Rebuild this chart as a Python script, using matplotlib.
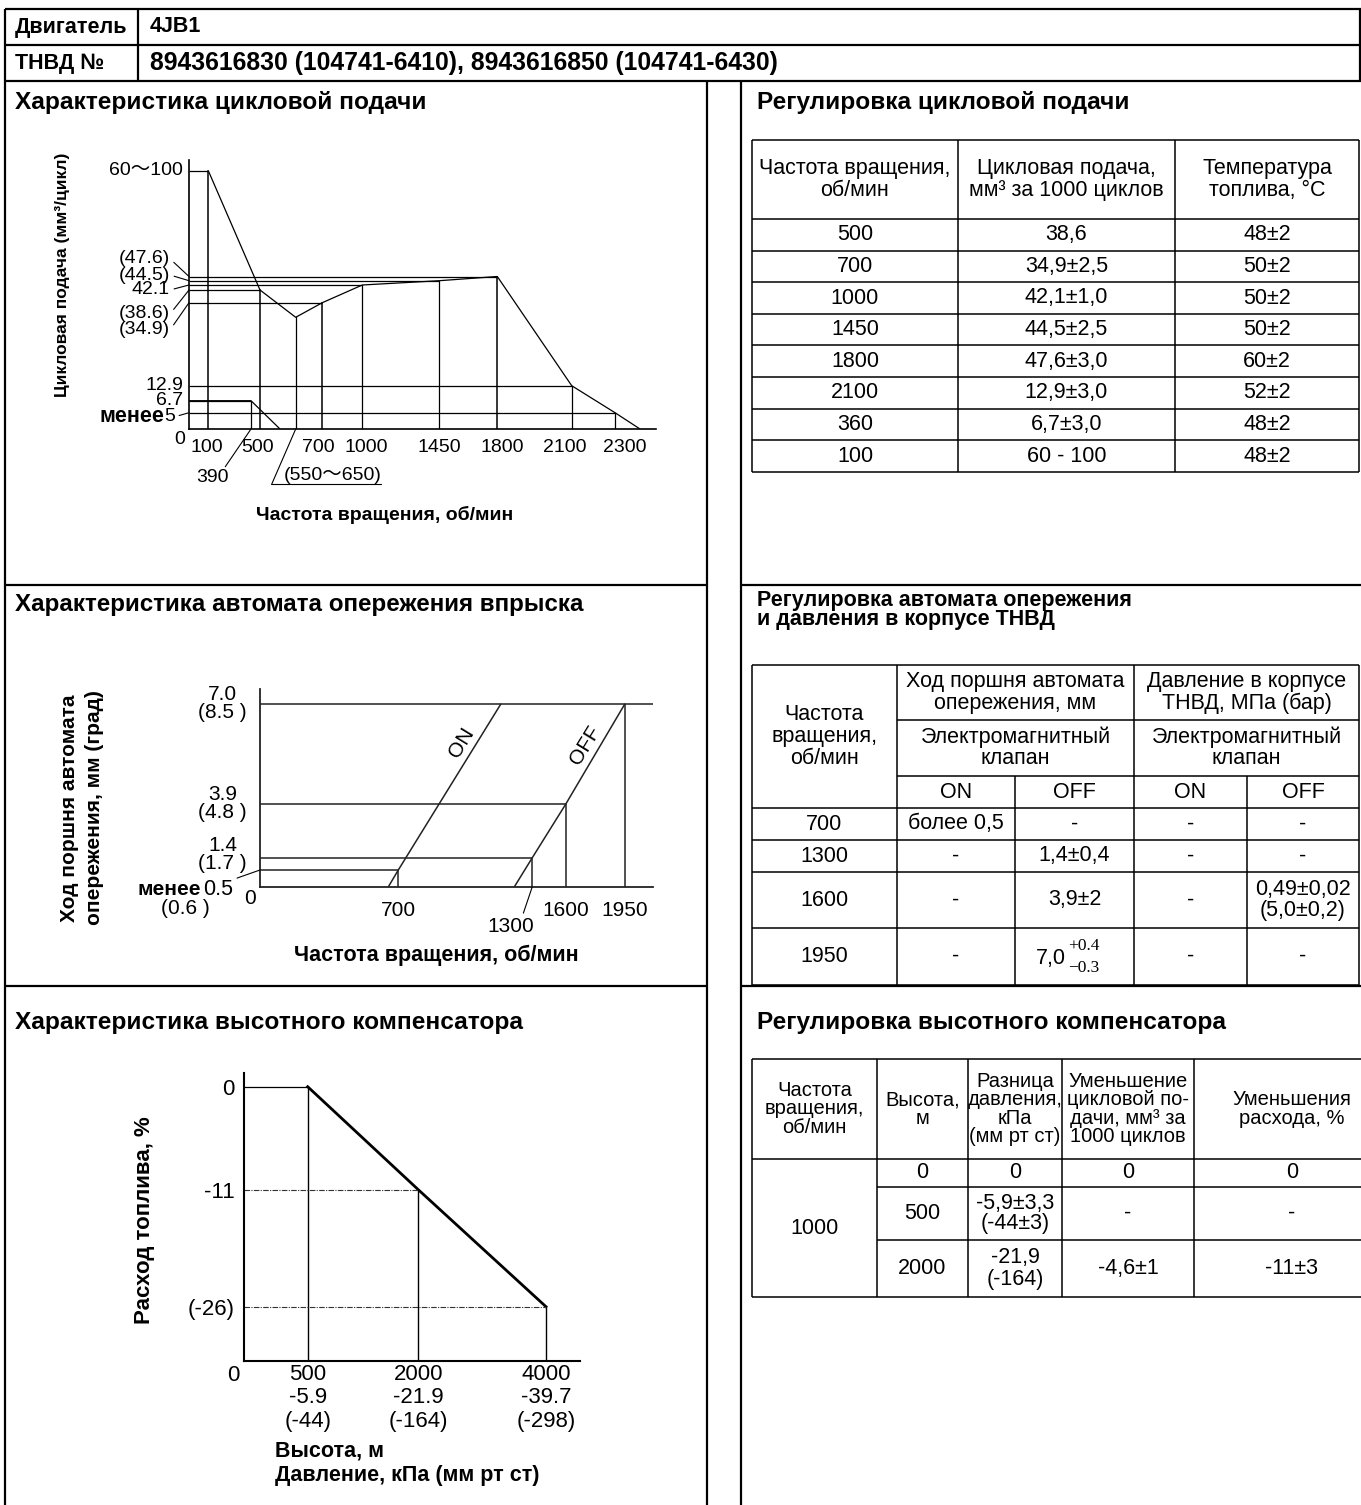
import numpy as np
import matplotlib
matplotlib.use("Agg")
import matplotlib.pyplot as plt

plt.rcParams['font.family'] = ['Liberation Sans', 'Noto Sans CJK JP', 'DejaVu Sans']

W, H = 1361, 1505

# header
engine = "4JB1"
pump_no = "8943616830 (104741-6410), 8943616850 (104741-6430)"

# chart 1 - cyclic feed (schematic, not to scale)
feed_rpm = [100, 500, 600, 700, 1000, 1450, 1800, 2100, 2300, 2350]
feed_val = [80, 38.6, 31, 34.9, 42.1, 44.5, 47.6, 12.9, 5, 0]
start_rpm = [0, 390, 556]
start_val = [6.7, 6.7, 0]
feed_ticks = [100, 500, 700, 1000, 1450, 1800, 2100, 2300]
feed_levels = [80, 47.6, 44.5, 42.1, 38.6, 34.9, 12.9, 6.7, 5]
feed_level_labels = ["60〜100", "(47.6)", "(44.5)", "42.1", "(38.6)", "(34.9)", "12.9", "6.7", "5"]

# chart 2 - timer advance
on_rpm = [650, 700, 1160]
on_stroke = [0, 0.5, 7.0]
off_rpm = [1220, 1300, 1600, 1950]
off_stroke = [0, 1.4, 3.9, 7.0]
stroke_levels = [7.0, 3.9, 1.4, 0.5]
stroke_deg = ["(8.5 )", "(4.8 )", "(1.7 )", "(0.6 )"]
adv_ticks = [700, 1600, 1950]

# chart 3 - altitude compensator
alt_m = [500, 2000, 4000]
fuel_pct = [0, -11, -26]
press_kpa = ["-5.9", "-21.9", "-39.7"]
press_mm = ["(-44)", "(-164)", "(-298)"]

# table 1
t1_head = ["Частота вращения,\nоб/мин", "Цикловая подача,\nмм³ за 1000 циклов", "Температура\nтоплива, °C"]
t1_rpm = ["500", "700", "1000", "1450", "1800", "2100", "360", "100"]
t1_feed = ["38,6", "34,9±2,5", "42,1±1,0", "44,5±2,5", "47,6±3,0", "12,9±3,0", "6,7±3,0", "60 - 100"]
t1_temp = ["48±2", "50±2", "50±2", "50±2", "60±2", "52±2", "48±2", "48±2"]

# table 2
t2_rpm = ["700", "1300", "1600", "1950"]
t2_adv_on = ["более 0,5", "-", "-", "-"]
t2_adv_off = ["-", "1,4±0,4", "3,9±2", "7,0"]
t2_pr_on = ["-", "-", "-", "-"]
t2_pr_off = ["-", "-", "0,49±0,02\n(5,0±0,2)", "-"]
t2_tol = ("+0.4", "−0.3")

# table 3
t3_head = ["Частота\nвращения,\nоб/мин", "Высота,\nм", "Разница\nдавления,\nкПа\n(мм рт ст)",
           "Уменьшение\nцикловой по-\nдачи, мм³ за\n1000 циклов", "Уменьшения\nрасхода, %"]
t3_rpm = "1000"
t3_alt = ["0", "500", "2000"]
t3_dp = ["0", "-5,9±3,3\n(-44±3)", "-21,9\n(-164)"]
t3_dq = ["0", "-", "-4,6±1"]
t3_dr = ["0", "-", "-11±3"]


fig = plt.figure(figsize=(W / 100, H / 100), dpi=100)
bg = fig.add_axes([0, 0, 1, 1])
bg.set_xlim(0, W)
bg.set_ylim(H, 0)
bg.axis('off')


def hline(y, x0, x1, lw=1.4):
    bg.plot([x0, x1], [y, y], color='k', lw=lw, solid_capstyle='butt')


def vline(x, y0, y1, lw=1.4):
    bg.plot([x, x], [y0, y1], color='k', lw=lw, solid_capstyle='butt')


def txt(x, y, s, size=15.5, bold=False, **kw):
    kw.setdefault('ha', 'center')
    kw.setdefault('va', 'center')
    bg.text(x, y, s, fontsize=size, fontweight='bold' if bold else 'normal', **kw)


def schematic_axes(xk, xp, yk, yp):
    # piecewise scale: the original drawings are not to scale
    xk, xp, yk, yp = map(np.asarray, (xk, xp, yk, yp))
    ax = fig.add_axes([xp[0] / W, 1 - yp[0] / H, (xp[-1] - xp[0]) / W, (yp[0] - yp[-1]) / H])
    ax.set_xscale('function', functions=(lambda v: np.interp(v, xk, xp),
                                         lambda p: np.interp(p, xp, xk)))
    ax.set_yscale('function', functions=(lambda v: -np.interp(v, yk, yp),
                                         lambda p: np.interp(p, -yp, yk)))
    ax.set_xlim(xk[0], xk[-1])
    ax.set_ylim(yk[0], yk[-1])
    ax.patch.set_visible(False)
    ax.spines[['top', 'right']].set_visible(False)
    ax.tick_params(length=0)
    ax.set_xticks([])
    ax.set_yticks([])
    return ax


# ---- frame
for y in (9, 45, 81):
    hline(y, 5, 1361, 1.6)
vline(5, 9, H, 1.6)
vline(1360, 9, 81, 1.6)
vline(138, 9, 81, 1.6)
vline(707, 81, H, 1.6)
vline(741, 81, H, 1.6)
for y in (585, 986):
    hline(y, 5, 707, 1.6)
    hline(y, 741, 1361, 1.6)

txt(15, 27, "Двигатель", 15.5, True, ha='left')
txt(150, 27, engine, 15.5, True, ha='left')
txt(15, 63, "ТНВД №", 15.5, True, ha='left')
txt(150, 63, pump_no, 17.8, True, ha='left')

txt(15, 103, "Характеристика цикловой подачи", 17.6, True, ha='left')
txt(757, 103, "Регулировка цикловой подачи", 17.6, True, ha='left')
txt(15, 605, "Характеристика автомата опережения впрыска", 17.4, True, ha='left')
txt(757, 610, "Регулировка автомата опережения\nи давления в корпусе ТНВД", 15.5, True, ha='left',
    linespacing=0.9)
txt(15, 1022, "Характеристика высотного компенсатора", 17.6, True, ha='left')
txt(757, 1022, "Регулировка высотного компенсатора", 17.6, True, ha='left')

# ---- chart 1
ax1 = schematic_axes([0, 100, 390, 500, 600, 700, 1000, 1450, 1800, 2100, 2300, 2350, 2420],
                     [189, 208.3, 251, 260, 295.7, 322.3, 362.3, 439.3, 497.3, 571.7, 615, 640, 656],
                     [0, 5, 6.7, 12.9, 31, 34.9, 38.6, 42.1, 44.5, 47.6, 80, 90],
                     [429, 412.7, 400.7, 385.7, 317.3, 302.7, 290, 285, 280.7, 276.5, 170.7, 160])
for s in ('left', 'bottom'):
    ax1.spines[s].set_linewidth(1.2)
lk = dict(color='k', lw=0.9, solid_capstyle='butt')
ax1.plot(feed_rpm, feed_val, **lk)
ax1.plot(start_rpm, start_val, **lk)
for r, v in zip(feed_rpm[:-1], feed_val[:-1]):
    ax1.plot([r, r], [0, v], color='k', lw=1.1 if r in (100, 500, 700, 1800) else 0.9)
ax1.plot([start_rpm[1]] * 2, [0, start_val[1]], **lk)
for v in feed_levels:
    if v in feed_val:
        r = feed_rpm[feed_val.index(v)]
    else:
        r = start_rpm[1]
    ax1.plot([0, r], [v, v], **lk)
tick_dx = [-1, -2, -4, 4, 0, 5, -7, 10]
for t, dx in zip(feed_ticks, tick_dx):
    ax1.annotate(str(t), xy=(t, 0), xytext=(dx, -19), textcoords='offset pixels', ha='center',
                 va='center', fontsize=14, annotation_clip=False)

lab_off = {80: (-6, 0), 47.6: (-19, 17.7), 44.5: (-19, 5.7), 42.1: (-19, -5),
           38.6: (-19, -24), 34.9: (-19, -27.3), 12.9: (-6, 0), 6.7: (-6, 0), 5: (-14, -4)}
for v, s in zip(feed_levels, feed_level_labels):
    dx, dy = lab_off[v]
    arrow = None
    if dx < -10:
        arrow = dict(arrowstyle='-', lw=0.8, relpos=(1, 0.5), shrinkA=1, shrinkB=0)
    ax1.annotate(s, xy=(0, v), xytext=(dx, dy), textcoords='offset pixels', ha='right',
                 va='center', fontsize=14, arrowprops=arrow, annotation_clip=False)
ax1.annotate("менее", xy=(0, 5), xytext=(-25, -4), textcoords='offset pixels', ha='right',
             va='center', fontsize=15.5, fontweight='bold', annotation_clip=False)
ax1.annotate("0", xy=(0, 0), xytext=(-4, -2), textcoords='offset pixels', ha='right',
             va='top', fontsize=14, annotation_clip=False)
ax1.annotate("390", xy=(390, 0), xytext=(-39, -49), textcoords='offset pixels', ha='center',
             va='center', fontsize=14, annotation_clip=False,
             arrowprops=dict(arrowstyle='-', lw=0.8, relpos=(0.85, 1), shrinkA=0, shrinkB=0))
ax1.annotate("(550〜650)", xy=(600, 0), xytext=(-12, -47), textcoords='offset pixels',
             ha='left', va='center', fontsize=14, annotation_clip=False,
             arrowprops=dict(arrowstyle='-', lw=0.8, relpos=(1, 0), shrinkA=0, shrinkB=0,
                             patchA=None, connectionstyle='angle,angleA=0,angleB=66.5,rad=0'))
txt(63, 275, "Цикловая подача (мм³/цикл)", 12.5, True, rotation=90)
txt(385, 515, "Частота вращения, об/мин", 14, True)

# ---- chart 2
ax2 = schematic_axes([0, 700, 1300, 1600, 1950, 2100],
                     [260, 398.3, 532.3, 566, 625, 652.7],
                     [0, 0.5, 1.4, 3.9, 7.0, 7.5],
                     [886.7, 870, 857.7, 803.7, 703.7, 689])
c2 = '#222222'
for s in ('left', 'bottom'):
    ax2.spines[s].set_linewidth(1.3)
    ax2.spines[s].set_color(c2)
lk2 = dict(color=c2, lw=1.1, solid_capstyle='butt')
ax2.plot(on_rpm, on_stroke, **lk2)
ax2.plot(off_rpm, off_stroke, **lk2)
ends = {0.5: on_rpm[1], 1.4: off_rpm[1], 3.9: off_rpm[2], 7.0: 2100}
for v in stroke_levels:
    ax2.plot([0, ends[v]], [v, v], **lk2)
for r, v in zip(off_rpm[1:] + [on_rpm[1]], off_stroke[1:] + [on_stroke[1]]):
    ax2.plot([r, r], [0, v], **lk2)
ax2.set_xticks(adv_ticks)
ax2.set_xticklabels([str(t) for t in adv_ticks], fontsize=15)
ax2.tick_params(axis='x', pad=10)
for v, d in zip(stroke_levels[:3], stroke_deg[:3]):
    dy = 3 if v == 1.4 else 0
    ax2.annotate(f"{v:.1f}\n{d}", xy=(0, v), xytext=(-13, dy), textcoords='offset pixels',
                 ha='right', va='center', multialignment='center', fontsize=15,
                 linespacing=0.95, annotation_clip=False)
ax2.annotate(f"{stroke_levels[3]:.1f}", xy=(0, 0.5), xytext=(-27, -20), textcoords='offset pixels',
             ha='right', va='center', fontsize=15.5, annotation_clip=False,
             arrowprops=dict(arrowstyle='-', lw=0.8, relpos=(1, 1), shrinkA=1, shrinkB=0))
ax2.annotate("менее", xy=(0, 0.5), xytext=(-59, -20), textcoords='offset pixels', ha='right',
             va='center', fontsize=15, fontweight='bold', annotation_clip=False)
ax2.annotate(stroke_deg[3], xy=(0, 0.5), xytext=(-75, -39), textcoords='offset pixels',
             ha='center', va='center', fontsize=15, annotation_clip=False)
ax2.annotate("0", xy=(0, 0), xytext=(-4, -2), textcoords='offset pixels', ha='right', va='top',
             fontsize=15, annotation_clip=False)
ax2.annotate("1300", xy=(1300, 0), xytext=(-22, -40), textcoords='offset pixels', ha='center',
             va='center', fontsize=15, annotation_clip=False,
             arrowprops=dict(arrowstyle='-', lw=0.8, relpos=(0.75, 1), shrinkA=1, shrinkB=0))
ax2.annotate("ON", xy=(on_rpm[-1], on_stroke[-1]), xytext=(-39, -39), textcoords='offset pixels',
             ha='center', va='center', rotation=58.5, fontsize=15, annotation_clip=False)
ax2.annotate("OFF", xy=(off_rpm[-1], off_stroke[-1]), xytext=(-40, -42), textcoords='offset pixels',
             ha='center', va='center', rotation=58.5, fontsize=15, annotation_clip=False)
txt(82, 808, "Ход поршня автомата\nопережения, мм (град)", 15, True, rotation=90,
    linespacing=1.4)
txt(436, 955, "Частота вращения, об/мин", 15.5, True)

# ---- chart 3
ax3 = schematic_axes([0, 500, 2000, 4000, 4500], [244.3, 307.7, 418.3, 546, 580],
                     [-32, -26, -11, 0, 1.5], [1361, 1306.7, 1189.7, 1086.7, 1073])
for s in ('left', 'bottom'):
    ax3.spines[s].set_linewidth(1.5)
ax3.plot([0, alt_m[0]], [fuel_pct[0]] * 2, color='k', lw=0.9)
ax3.plot(alt_m, fuel_pct, color='k', lw=2.0)
for a, f in zip(alt_m, fuel_pct):
    ax3.plot([a, a], [-32, f], color='k', lw=1.0)
for a, f in zip(alt_m[1:], fuel_pct[1:]):
    ax3.plot([0, a], [f, f], color='#333333', lw=0.8, ls=(0, (5, 1.2, 1, 1.2)))
ax3.set_yticks(fuel_pct)
ax3.set_yticklabels(["0", "-11", "(-26)"], fontsize=16)
ax3.tick_params(axis='y', pad=7)
ax3.set_xticks(alt_m)
ax3.set_xticklabels([f"{a}\n{k}\n{m}" for a, k, m in zip(alt_m, press_kpa, press_mm)],
                    fontsize=16, linespacing=1.15)
ax3.tick_params(axis='x', pad=2)
ax3.annotate("0", xy=(0, -32), xytext=(-11, -14), textcoords='offset pixels', ha='center',
             va='center', fontsize=16, annotation_clip=False)
txt(145, 1220, "Расход топлива, %", 16, True, rotation=90)
txt(275, 1440, "Высота, м\nДавление, кПа (мм рт ст)", 15.5, True, ha='left', va='top',
    linespacing=1.25)

# ---- table 1
x1 = [752, 958, 1175, 1359]
y1 = [140, 219] + [219 + 31.6 * (i + 1) for i in range(len(t1_rpm))]
for y in y1:
    hline(y, x1[0], x1[-1], 1.1)
for x in x1:
    vline(x, y1[0], y1[-1], 1.1)
for i, h in enumerate(t1_head):
    txt((x1[i] + x1[i + 1]) / 2, (y1[0] + y1[1]) / 2, h, 15.5, linespacing=1.05)
for j, row in enumerate(zip(t1_rpm, t1_feed, t1_temp)):
    for i, s in enumerate(row):
        txt((x1[i] + x1[i + 1]) / 2, (y1[j + 1] + y1[j + 2]) / 2, s, 15.5)

# ---- table 2
x2 = [752, 897, 1015, 1134, 1247, 1359]
y2 = [665, 720, 776, 808, 840, 872, 928, 985]
hline(y2[0], x2[0], x2[-1], 1.1)
hline(y2[1], x2[1], x2[-1], 1.1)
hline(y2[2], x2[1], x2[-1], 1.1)
for y in y2[3:]:
    hline(y, x2[0], x2[-1], 1.1)
for x in (x2[0], x2[1], x2[3], x2[5]):
    vline(x, y2[0], y2[-1], 1.1)
for x in (x2[2], x2[4]):
    vline(x, y2[2], y2[-1], 1.1)
txt((x2[0] + x2[1]) / 2, (y2[0] + y2[3]) / 2, "Частота\nвращения,\nоб/мин", 15.5, linespacing=1.05)
txt((x2[1] + x2[3]) / 2, (y2[0] + y2[1]) / 2, "Ход поршня автомата\nопережения, мм", 15.5, linespacing=1.0)
txt((x2[3] + x2[5]) / 2, (y2[0] + y2[1]) / 2, "Давление в корпусе\nТНВД, МПа (бар)", 15.5, linespacing=1.0)
for a, b in ((1, 3), (3, 5)):
    txt((x2[a] + x2[b]) / 2, (y2[1] + y2[2]) / 2, "Электромагнитный\nклапан", 15.5, linespacing=1.0)
for i, s in enumerate(["ON", "OFF", "ON", "OFF"]):
    txt((x2[i + 1] + x2[i + 2]) / 2, (y2[2] + y2[3]) / 2, s, 15.5)
for j, row in enumerate(zip(t2_rpm, t2_adv_on, t2_adv_off, t2_pr_on, t2_pr_off)):
    yc = (y2[j + 3] + y2[j + 4]) / 2
    for i, s in enumerate(row):
        xc = (x2[i] + x2[i + 1]) / 2
        if s == "7,0":
            txt(xc - 9, yc + 2, s, 15.5, ha='right')
            bg.text(xc - 6, yc - 10, t2_tol[0], fontsize=12.5, family='Liberation Serif', va='center')
            bg.text(xc - 6, yc + 12, t2_tol[1], fontsize=12.5, family='Liberation Serif', va='center')
        else:
            txt(xc, yc, s, 15.5, linespacing=1.0)

# ---- table 3 (right edge runs past the page crop)
x3 = [752, 877, 968, 1062, 1194, 1390]
y3 = [1059, 1159, 1187, 1240, 1297]
hline(y3[0], x3[0], x3[-1], 1.1)
hline(y3[1], x3[0], x3[-1], 1.1)
for y in y3[2:-1]:
    hline(y, x3[1], x3[-1], 1.1)
hline(y3[-1], x3[0], x3[-1], 1.1)
for x in x3[:-1]:
    vline(x, y3[0], y3[-1], 1.1)
for i, h in enumerate(t3_head):
    txt((x3[i] + x3[i + 1]) / 2, (y3[0] + y3[1]) / 2, h, 14.5, linespacing=0.95)
txt((x3[0] + x3[1]) / 2, (y3[1] + y3[-1]) / 2, t3_rpm, 15.5)
for j, row in enumerate(zip(t3_alt, t3_dp, t3_dq, t3_dr)):
    for i, s in enumerate(row):
        txt((x3[i + 1] + x3[i + 2]) / 2, (y3[j + 1] + y3[j + 2]) / 2, s, 15.5, linespacing=1.0)

fig.savefig("out.png", dpi=100)
